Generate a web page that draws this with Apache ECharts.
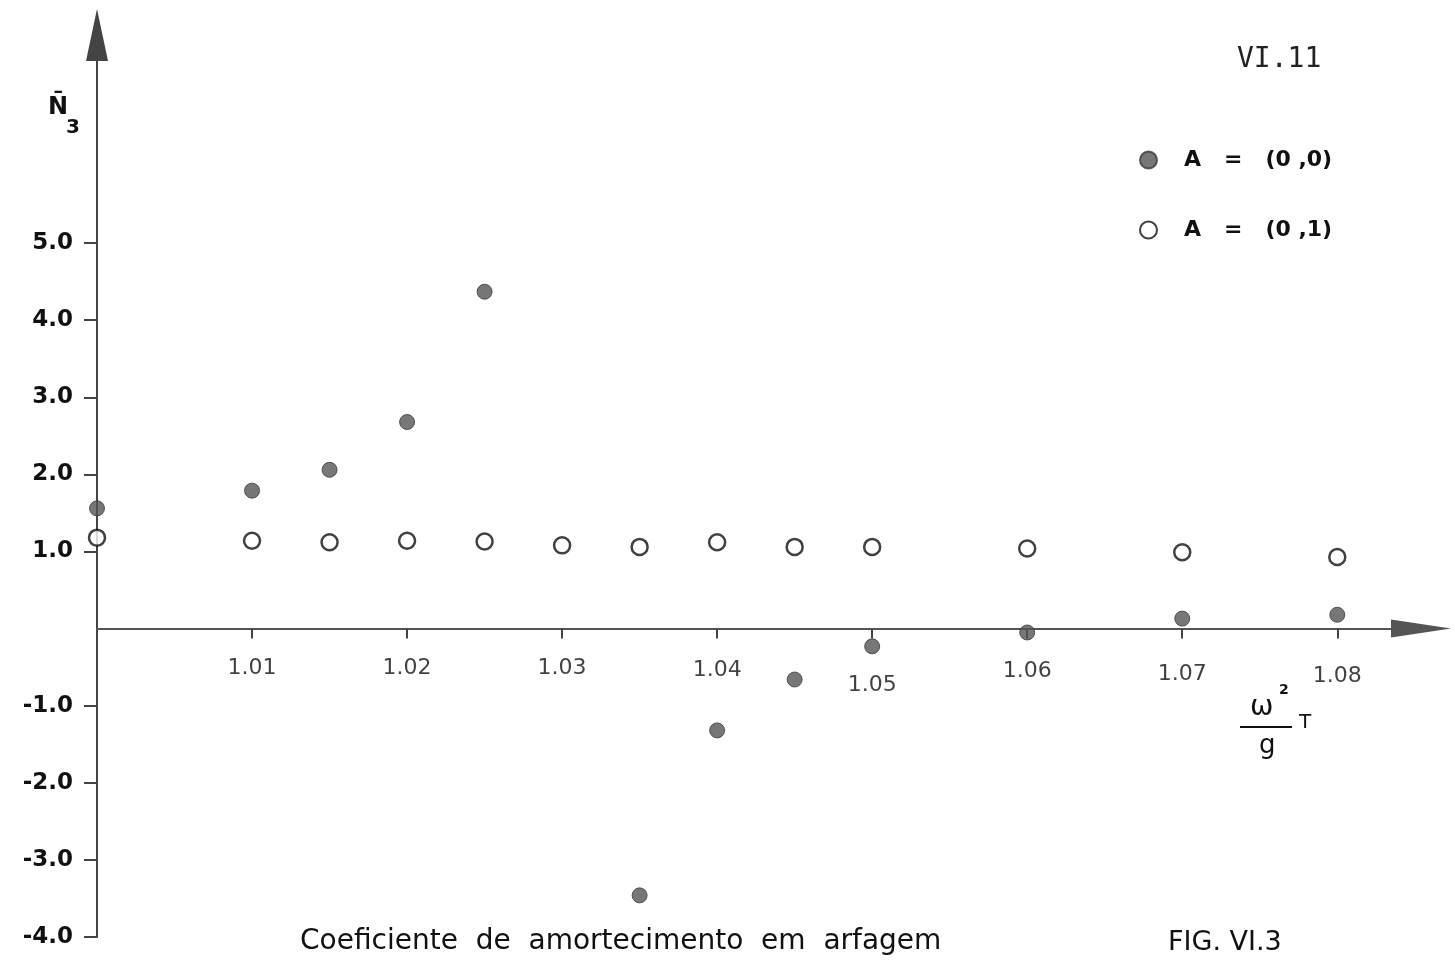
<!DOCTYPE html>
<html><head><meta charset="utf-8">
<script src="https://cdn.jsdelivr.net/npm/echarts@6/dist/echarts.min.js"></script>
<style>html,body{margin:0;padding:0;background:#fff}#c{width:1455px;height:966px}</style>
</head><body><div id="c"></div>
<script>
const xFilled = [1.00, 1.01, 1.015, 1.02, 1.025, 1.035, 1.04, 1.045, 1.05, 1.06, 1.07, 1.08];
const yFilled = [1.56, 1.79, 2.06, 2.68, 4.37, -3.46, -1.32, -0.66, -0.23, -0.05, 0.13, 0.18];
const xOpen = [1.00, 1.01, 1.015, 1.02, 1.025, 1.03, 1.035, 1.04, 1.045, 1.05, 1.06, 1.07, 1.08];
const yOpen = [1.18, 1.14, 1.12, 1.14, 1.13, 1.08, 1.06, 1.12, 1.06, 1.06, 1.04, 0.99, 0.93];
const xTicks = [1.01, 1.02, 1.03, 1.04, 1.05, 1.06, 1.07, 1.08];
const xTickLabels = ['1.01', '1.02', '1.03', '1.04', '1.05', '1.06', '1.07', '1.08'];
const yTicks = [-4, -3, -2, -1, 1, 2, 3, 4, 5];
const yTickLabels = ['-4.0', '-3.0', '-2.0', '-1.0', '1.0', '2.0', '3.0', '4.0', '5.0'];
const seriesNames = ['A   =   (0 ,0)', 'A   =   (0 ,1)'];

const chart = echarts.init(document.getElementById('c'));
const font = 'DejaVu Sans';
const labelDrop = {1.04: 2, 1.05: 17, 1.06: 3, 1.07: 6, 1.08: 8};
chart.setOption({
  backgroundColor: '#fff',
  animation: false,
  grid: {left: 97, right: 34, top: 35, bottom: 29, containLabel: false, outerBoundsMode: 'none'},
  xAxis: {
    type: 'value', min: 1.00, max: 1.0854,
    axisLine: {onZero: true, lineStyle: {color: '#555', width: 2}, symbol: ['none', 'triangle'], symbolSize: [18, 60]},
    axisTick: {show: true, customValues: xTicks, inside: false, length: 10, lineStyle: {color: '#444', width: 2}},
    axisLabel: {show: false},
    splitLine: {show: false}
  },
  yAxis: {
    type: 'value', min: -4, max: 7.7,
    axisLine: {lineStyle: {color: '#444', width: 2}, symbol: ['none', 'triangle'], symbolSize: [22, 52]},
    axisTick: {show: true, customValues: yTicks, length: 13, lineStyle: {color: '#444', width: 2}},
    axisLabel: {customValues: yTicks, margin: 24, color: '#111', fontSize: 23, fontWeight: 'bold', fontFamily: font,
      formatter: v => yTickLabels[yTicks.indexOf(Math.round(v))] || ''},
    splitLine: {show: false}
  },
  legend: {
    orient: 'vertical', left: 1134, top: 144, itemGap: 48, itemWidth: 17, itemHeight: 17,
    textStyle: {fontSize: 22, fontWeight: 'bold', fontFamily: font, color: '#111', padding: [0, 0, 0, 22]},
    data: [{name: seriesNames[0], icon: 'circle'}, {name: seriesNames[1], icon: 'circle'}]
  },
  series: [
    {name: seriesNames[0], type: 'scatter', symbol: 'circle', symbolSize: 15,
      itemStyle: {color: '#555', borderColor: '#3a3a3a', borderWidth: 1},
      data: xFilled.map((x, i) => [x, yFilled[i]])},
    {name: seriesNames[1], type: 'scatter', symbol: 'circle', symbolSize: 16,
      itemStyle: {color: '#fff', borderColor: '#111', borderWidth: 2.5},
      data: xOpen.map((x, i) => [x, yOpen[i]])},
    {name: 'xlabels', type: 'scatter', symbolSize: 0, silent: true, legendHoverLink: false,
      data: xTicks.map((x, i) => ({value: [x, 0], label: {show: true, position: 'bottom', distance: 29 + (labelDrop[x] || 0),
        formatter: xTickLabels[i], fontSize: 22, fontFamily: font, color: '#111'}}))}
  ],
  graphic: [
    {type: 'text', left: 48, top: 96, style: {text: 'N\u0304', fontSize: 24, fontWeight: 'bold', fontFamily: font, fill: '#111'}},
    {type: 'text', left: 66, top: 118, style: {text: '3', fontSize: 20, fontWeight: 'bold', fontFamily: font, fill: '#111'}},
    {type: 'text', left: 1237, top: 46, style: {text: 'VI.11', fontSize: 28, fontFamily: 'DejaVu Sans Mono', fill: '#222'}},
    {type: 'text', left: 1250, top: 694, style: {text: 'ω', fontSize: 28, fontFamily: font, fill: '#111'}},
    {type: 'text', left: 1279, top: 683, style: {text: '2', fontSize: 14, fontWeight: 'bold', fontFamily: font, fill: '#111'}},
    {type: 'line', shape: {x1: 1240, y1: 727, x2: 1292, y2: 727}, style: {stroke: '#111', lineWidth: 2}},
    {type: 'text', left: 1259, top: 733, style: {text: 'g', fontSize: 26, fontFamily: font, fill: '#111'}},
    {type: 'text', left: 1299, top: 713, style: {text: 'T', fontSize: 20, fontFamily: font, fill: '#111'}},
    {type: 'text', left: 300, top: 928, style: {text: 'Coeficiente  de  amortecimento  em  arfagem', fontSize: 28, fontFamily: font, fill: '#111'}},
    {type: 'text', left: 1168, top: 929, style: {text: 'FIG. VI.3', fontSize: 27, fontFamily: font, fill: '#111'}}
  ]
});
</script></body></html>
